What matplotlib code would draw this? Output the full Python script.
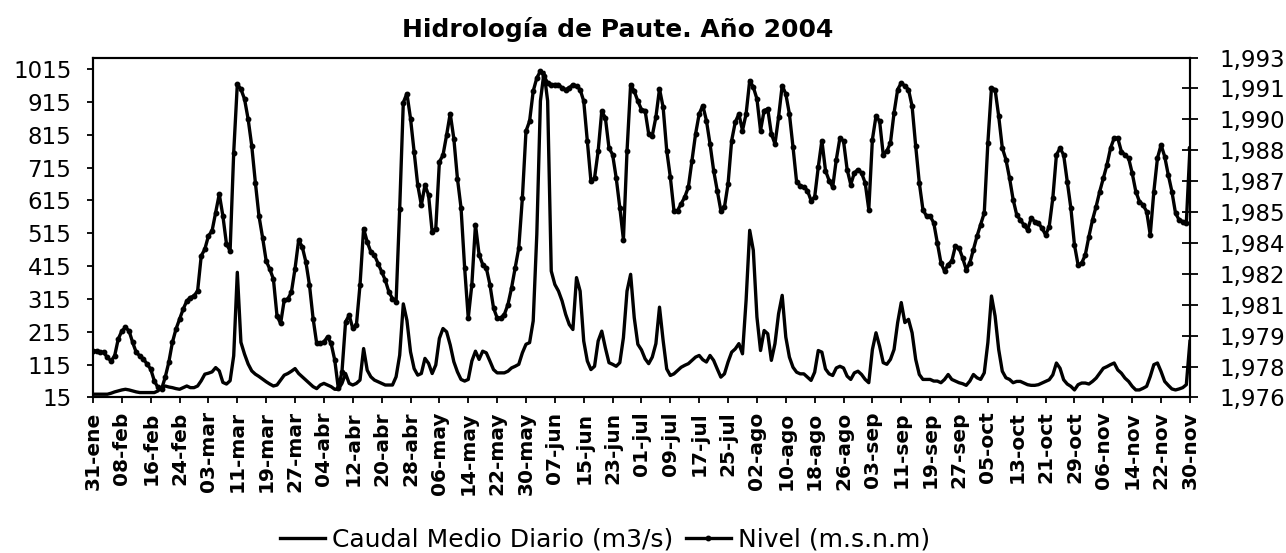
"""
Hidrología de Paute - año 2004
Caudal medio diario y nivel del embalse (31-ene a 30-nov)
"""

import matplotlib
matplotlib.use("Agg")
import matplotlib.pyplot as plt
import numpy as np
import pandas as pd

# ── Datos diarios ──────────────────────────────────────────
fechas = pd.date_range("2004-01-31", "2004-11-30", freq="D")
meses = ["ene", "feb", "mar", "abr", "may", "jun",
         "jul", "ago", "sep", "oct", "nov", "dic"]

# Caudal medio diario (m3/s), un valor por día desde 31-ene
caudal = [
    25, 25, 25, 25, 25, 28, 32, 35, 38, 40,
    38, 35, 32, 30, 30, 30, 30, 30, 35, 45,
    50, 47, 45, 42, 40, 45, 50, 45, 45, 50,
    66, 86, 89, 93, 106, 96, 61, 56, 66, 142,
    396, 183, 147, 117, 96, 86, 79, 71, 63, 56,
    50, 53, 68, 83, 88, 95, 103, 88, 78, 68,
    58, 48, 42, 53, 58, 53, 48, 40, 40, 58,
    88, 58, 53, 58, 68, 164, 98, 78, 68, 63,
    58, 53, 53, 53, 78, 144, 300, 250, 154, 103,
    83, 88, 134, 119, 88, 114, 195, 225, 215, 175,
    124, 93, 70, 65, 70, 126, 156, 131, 156, 151,
    126, 100, 90, 90, 90, 95, 105, 110, 116, 151,
    177, 182, 248, 512, 918, 1005, 918, 400, 359, 339,
    309, 268, 237, 222, 380, 339, 187, 126, 100, 110,
    187, 217, 166, 121, 116, 110, 121, 197, 339, 390,
    258, 177, 160, 133, 118, 138, 179, 290, 189, 102,
    82, 87, 97, 107, 113, 118, 128, 138, 143, 130,
    123, 143, 128, 102, 77, 87, 123, 153, 163, 179,
    148, 311, 524, 463, 260, 158, 219, 209, 128, 179,
    270, 326, 199, 138, 107, 92, 87, 87, 77, 67,
    92, 158, 153, 102, 87, 82, 105, 110, 105, 80,
    70, 90, 95, 85, 70, 60, 161, 212, 171, 121,
    116, 131, 161, 243, 304, 243, 253, 212, 131, 85,
    70, 70, 70, 65, 65, 60, 70, 85, 70, 65,
    60, 57, 52, 65, 85, 75, 70, 90, 182, 324,
    263, 161, 95, 75, 70, 60, 64, 64, 59, 54,
    52, 52, 54, 59, 64, 69, 84, 120, 104, 69,
    56, 49, 38, 54, 59, 59, 56, 64, 74, 89,
    104, 109, 115, 120, 99, 89, 74, 64, 49, 38,
    38, 43, 49, 79, 115, 120, 94, 64, 52, 41,
    38, 41, 45, 54, 186,
]

# Nivel del embalse (m.s.n.m), un valor por día desde 31-ene
nivel = [
    1978.33, 1978.33, 1978.28, 1978.25, 1978.00, 1977.83, 1978.08, 1978.92, 1979.33, 1979.50,
    1979.33, 1978.75, 1978.25, 1978.08, 1977.92, 1977.67, 1977.42, 1976.83, 1976.50, 1976.42,
    1977.00, 1977.75, 1978.75, 1979.42, 1979.92, 1980.42, 1980.83, 1981.00, 1981.08, 1981.33,
    1983.08, 1983.42, 1984.08, 1984.33, 1985.25, 1986.17, 1985.08, 1983.67, 1983.33, 1988.25,
    1991.67, 1991.42, 1990.92, 1989.92, 1988.58, 1986.75, 1985.08, 1984.00, 1982.83, 1982.42,
    1981.92, 1980.08, 1979.70, 1980.87, 1980.92, 1981.28, 1982.45, 1983.87, 1983.53, 1982.78,
    1981.62, 1979.95, 1978.70, 1978.70, 1978.78, 1979.03, 1978.70, 1977.87, 1976.45, 1977.28,
    1979.78, 1980.12, 1979.45, 1979.62, 1981.62, 1984.45, 1983.78, 1983.28, 1983.12, 1982.70,
    1982.28, 1981.87, 1981.28, 1980.95, 1980.78, 1985.45, 1990.75, 1991.20, 1989.95, 1988.28,
    1986.62, 1985.62, 1986.62, 1986.12, 1984.28, 1984.45, 1987.78, 1988.12, 1989.12, 1990.20,
    1988.95, 1986.95, 1985.48, 1982.48, 1979.98, 1981.65, 1984.65, 1983.15, 1982.65, 1982.48,
    1981.65, 1980.48, 1979.98, 1979.98, 1980.15, 1980.65, 1981.48, 1982.48, 1983.48, 1985.98,
    1989.32, 1989.82, 1991.32, 1991.98, 1992.32, 1992.07, 1991.73, 1991.65, 1991.65, 1991.65,
    1991.48, 1991.40, 1991.48, 1991.65, 1991.57, 1991.40, 1990.82, 1988.82, 1986.82, 1986.98,
    1988.32, 1990.32, 1989.98, 1988.48, 1988.15, 1986.98, 1985.50, 1983.90, 1988.32, 1991.65,
    1991.32, 1990.82, 1990.40, 1990.35, 1989.18, 1989.10, 1990.02, 1991.43, 1990.52, 1988.35,
    1987.02, 1985.35, 1985.35, 1985.68, 1986.02, 1986.52, 1987.85, 1989.18, 1990.18, 1990.60,
    1989.85, 1988.68, 1987.35, 1986.35, 1985.35, 1985.52, 1986.68, 1988.85, 1989.77, 1990.18,
    1989.35, 1990.18, 1991.85, 1991.52, 1990.93, 1989.35, 1990.35, 1990.43, 1989.18, 1988.68,
    1990.02, 1991.60, 1991.18, 1990.18, 1988.52, 1986.77, 1986.60, 1986.52, 1986.35, 1985.85,
    1986.02, 1987.52, 1988.85, 1987.35, 1986.85, 1986.52, 1987.90, 1988.98, 1988.82, 1987.40,
    1986.65, 1987.23, 1987.40, 1987.23, 1986.73, 1985.40, 1988.90, 1990.07, 1989.82, 1988.15,
    1988.32, 1988.73, 1990.23, 1991.40, 1991.73, 1991.57, 1991.40, 1990.57, 1988.57, 1986.73,
    1985.40, 1985.07, 1985.07, 1984.73, 1983.73, 1982.73, 1982.32, 1982.65, 1982.82, 1983.57,
    1983.48, 1982.98, 1982.40, 1982.73, 1983.40, 1984.07, 1984.65, 1985.23, 1988.73, 1991.48,
    1991.40, 1990.07, 1988.48, 1987.90, 1986.98, 1985.90, 1985.13, 1984.88, 1984.63, 1984.38,
    1984.97, 1984.80, 1984.72, 1984.47, 1984.13, 1984.55, 1985.97, 1988.13, 1988.47, 1988.13,
    1986.80, 1985.47, 1983.63, 1982.63, 1982.72, 1983.13, 1984.05, 1984.88, 1985.55, 1986.30,
    1986.97, 1987.63, 1988.47, 1988.97, 1988.97, 1988.30, 1988.13, 1987.97, 1987.22, 1986.30,
    1985.80, 1985.63, 1985.30, 1984.13, 1986.30, 1987.97, 1988.63, 1988.05, 1987.13, 1986.30,
    1985.22, 1984.88, 1984.80, 1984.72, 1988.47,
]

caudal_ticks = list(range(15, 1016, 100))
nivel_min, nivel_max = 1976, 1993

# ── Ejes ────────────────────────────────────────────────────
x = np.arange(len(fechas))
etiquetas = [f"{d.day:02d}-{meses[d.month - 1]}" for d in fechas[::8]]

fig = plt.figure(figsize=(12.86, 5.53), dpi=100)
ax = fig.add_axes([0.0723, 0.2812, 0.853, 0.6148])
ax2 = ax.twinx()

l1, = ax.plot(x, caudal, color="black", lw=2.4, solid_joinstyle="round")
l2, = ax2.plot(x, nivel, color="black", lw=2.4, marker="o", ms=3.2)

ax.set_xlim(0, len(x) - 1)
ax.set_ylim(15, 1050)
ax.set_yticks(caudal_ticks)
ax.set_xticks(x[::8])
ax.set_xticklabels(etiquetas, rotation=90, fontsize=14.5, fontweight="bold")
ax.tick_params(axis="y", direction="out", length=4.5, width=1.3, pad=11, labelsize=16.5)
ax.tick_params(axis="x", direction="out", length=4, width=1.3, pad=6)

ax2.set_ylim(nivel_min, nivel_max)
nivel_ticks = np.linspace(nivel_min, nivel_max, 12)
ax2.set_yticks(nivel_ticks)
ax2.set_yticklabels([f"{round(t):,}" for t in nivel_ticks])
ax2.tick_params(axis="y", direction="inout", length=12, width=1.3, pad=15, labelsize=16.5)

for a in (ax, ax2):
    for s in a.spines.values():
        s.set_linewidth(1.5)
        s.set_color("black")

fig.text(618 / 1286, 1 - 37 / 553, "Hidrología de Paute. Año 2004",
         ha="center", va="baseline", fontsize=18, fontweight="bold")

fig.legend([l1, l2], ["Caudal Medio Diario (m3/s)", "Nivel (m.s.n.m)"],
           loc="center", bbox_to_anchor=(605 / 1286, 1 - 540 / 553), ncol=2,
           frameon=False, fontsize=18, handlelength=1.8, handletextpad=0.3,
           columnspacing=0.5)

fig.savefig("out.png", dpi=100)
